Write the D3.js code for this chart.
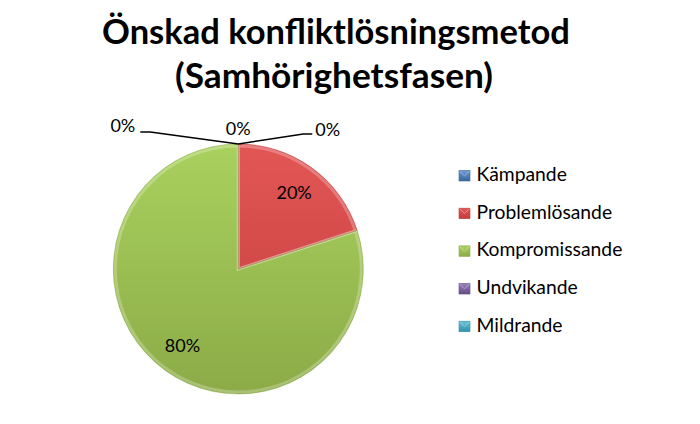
<!DOCTYPE html>
<html>
<head>
<meta charset="utf-8">
<script src="https://cdn.jsdelivr.net/npm/d3@7/dist/d3.min.js"></script>
<style>
  html, body { margin: 0; padding: 0; background: #fff; }
  svg { display: block; }
  text { font-family: Lato, "Open Sans", "Liberation Sans", sans-serif; fill: #000; }
</style>
</head>
<body>
<svg id="chart" width="700" height="424"></svg>
<script>
// ---- data ----
const categories = ["Kämpande", "Problemlösande", "Kompromissande", "Undvikande", "Mildrande"];
const values = [0, 20, 80, 0, 0];
const valueLabels = ["0%", "20%", "80%", "0%", "0%"];
const titleLines = ["Önskad konfliktlösningsmetod", "(Samhörighetsfasen)"];
const colors = ["#4F81BD", "#C0504D", "#9BBB59", "#8064A2", "#4BACC6"];
const lightColors = ["#6D9BD6", "#E35656", "#A9D15E", "#9A7EBD", "#66C4DD"];
const darkColors = ["#3B6597", "#C03C3B", "#8CAB47", "#654C84", "#348FA8"];

const svg = d3.select("#chart");
const cx = 238.3, cy = 269, R = 125;

// ---- gradients ----
const defs = svg.append("defs");
categories.forEach((c, i) => {
  const g = defs.append("linearGradient")
    .attr("id", "grad" + i)
    .attr("gradientUnits", "userSpaceOnUse")
    .attr("x1", 0).attr("y1", -R).attr("x2", 0).attr("y2", R);
  g.append("stop").attr("offset", "0%").attr("stop-color", lightColors[i]);
  g.append("stop").attr("offset", "100%").attr("stop-color", darkColors[i]);
  const lg = defs.append("linearGradient")
    .attr("id", "lgrad" + i).attr("x1", 0).attr("y1", 0).attr("x2", 0).attr("y2", 1);
  lg.append("stop").attr("offset", "0%").attr("stop-color", lightColors[i]);
  lg.append("stop").attr("offset", "100%").attr("stop-color", darkColors[i]);
});

// ---- title ----
function fitText(sel, targetWidth) {
  const fs = parseFloat(sel.attr("font-size"));
  const w = sel.node().getComputedTextLength();
  sel.attr("font-size", fs * targetWidth / w);
}
const t1 = svg.append("text").attr("x", 336).attr("y", 44)
  .attr("text-anchor", "middle").attr("font-weight", "bold").attr("font-size", 30)
  .text(titleLines[0]);
fitText(t1, 468);
const t2 = svg.append("text").attr("x", 334).attr("y", 88)
  .attr("text-anchor", "middle").attr("font-weight", "bold").attr("font-size", 30)
  .text(titleLines[1]);
fitText(t2, 318);

// ---- pie ----
const pie = d3.pie().sort(null).value(d => d.v);
const arcs = pie(categories.map((c, i) => ({ c, v: values[i], i })));
const arc = d3.arc().innerRadius(0).outerRadius(R);
const gPie = svg.append("g").attr("transform", `translate(${cx},${cy})`);

gPie.selectAll("path.slice").data(arcs).join("path")
  .attr("class", "slice")
  .attr("d", arc)
  .attr("fill", d => `url(#grad${d.data.i})`)
  .attr("stroke", "none");

// bevel highlights
const arcInner = d3.arc().innerRadius(0).outerRadius(R - 2);
gPie.selectAll("path.bevel").data(arcs.filter(d => d.data.v > 0)).join("path")
  .attr("class", "bevel")
  .attr("d", arcInner)
  .attr("fill", "none")
  .attr("stroke", "#fff").attr("stroke-opacity", 0.25).attr("stroke-width", 3);
gPie.selectAll("path.edge").data(arcs.filter(d => d.data.v > 0)).join("path")
  .attr("class", "edge")
  .attr("d", arc)
  .attr("fill", "none")
  .attr("stroke", d => darkColors[d.data.i]).attr("stroke-opacity", 0.6).attr("stroke-width", 0.8);

// ---- data labels ----
const labelArc = d3.arc().innerRadius(R * 0.76).outerRadius(R * 0.76);
const nonZero = arcs.filter(d => d.data.v > 0);
gPie.selectAll("text.lbl").data(nonZero).join("text")
  .attr("class", "lbl")
  .attr("font-size", 18)
  .attr("text-anchor", "middle")
  .attr("transform", d => {
    const [x, y] = labelArc.centroid(d);
    return `translate(${x},${y + 6.5})`;
  })
  .text(d => valueLabels[d.data.i]);

// zero labels with leader lines (layout offsets from the pie top)
const zero = arcs.filter(d => d.data.v === 0);
const zeroLayout = {
  0: { anchor: "start", path: [[65, -135], [74, -135]], tx: 77, ty: -133 },
  3: { anchor: "middle", path: null, tx: 0, ty: -134 },
  4: { anchor: "end", path: [[-88, -137], [-98, -137]], tx: -103, ty: -137 }
};
zero.forEach(d => {
  const L = zeroLayout[d.data.i];
  const a = d.startAngle;
  const px = R * Math.sin(a), py = -R * Math.cos(a);
  if (L.path) {
    gPie.append("path")
      .attr("d", d3.line()([[px, py], ...L.path]))
      .attr("fill", "none").attr("stroke", "#000").attr("stroke-width", 1.5);
  }
  gPie.append("text")
    .attr("x", L.tx).attr("y", L.ty)
    .attr("font-size", 18)
    .attr("text-anchor", L.anchor)
    .text(valueLabels[d.data.i]);
});

// ---- legend ----
const legend = svg.append("g");
const ly = d3.scalePoint().domain(categories).range([181, 331.7]);
const items = legend.selectAll("g").data(categories).join("g")
  .attr("transform", c => `translate(459,${ly(c)})`);
items.append("rect")
  .attr("x", 0).attr("y", -10.5).attr("width", 11).attr("height", 10.5)
  .attr("fill", (c, i) => `url(#lgrad${i})`)
  .attr("stroke", (c, i) => darkColors[i]).attr("stroke-width", 0.6);
items.append("path")
  .attr("d", "M0.5,-10 L5.5,-5.25 L10.5,-10")
  .attr("fill", "none").attr("stroke", "#fff").attr("stroke-opacity", 0.35).attr("stroke-width", 1);
const legText = items.append("text")
  .attr("x", 17.5).attr("y", 0)
  .attr("font-size", 18)
  .text(c => c);
const komp = legText.filter(c => c === "Kompromissande");
const kw = komp.node().getComputedTextLength();
legText.attr("font-size", 18 * 146 / kw);
</script>
</body>
</html>
